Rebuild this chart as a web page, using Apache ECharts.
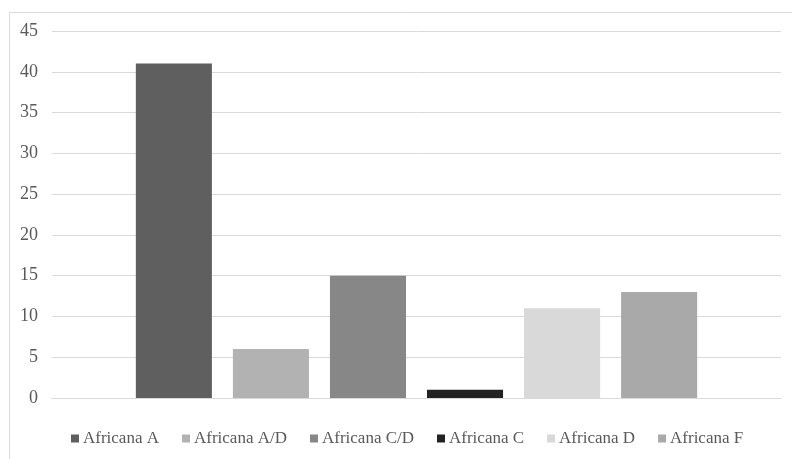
<!DOCTYPE html>
<html><head><meta charset="utf-8">
<script src="https://cdn.jsdelivr.net/npm/echarts@6/dist/echarts.min.js"></script>
<style>html,body{margin:0;padding:0;background:#fff}#c{width:792px;height:459px}</style>
</head><body><div id="c"></div>
<script>
const categories = [''];
const seriesNames = ['Africana A','Africana A/D','Africana C/D','Africana C','Africana D','Africana F'];
const seriesValues = [41, 6, 15, 1, 11, 13];
const seriesColors = ['#5f5f5f','#b2b2b2','#878787','#222222','#d9d9d9','#a9a9a9'];
const yTicks = {min:0, max:45, interval:5};

const chart = echarts.init(document.getElementById('c'));
const font = '"Liberation Serif","Times New Roman",serif';
chart.setOption({
  animation:false,
  graphic:[{type:'rect',left:7,top:10,shape:{width:900,height:600},style:{fill:'none',stroke:'#d9d9d9',lineWidth:1},silent:true}],
  grid:{left:52,right:11,top:31,bottom:61},
  legend:{top:425,left:66,padding:5,itemWidth:8,itemHeight:8,itemGap:23,icon:'rect',
    textStyle:{fontFamily:font,fontSize:17,color:'#595959',padding:[0,0,0,-1]},
    data:seriesNames},
  xAxis:{type:'category',data:categories,axisLine:{lineStyle:{color:'#d9d9d9'}},axisTick:{show:false},axisLabel:{show:false}},
  yAxis:{type:'value',min:yTicks.min,max:yTicks.max,interval:yTicks.interval,
    axisLine:{show:false},axisTick:{show:false},
    splitLine:{lineStyle:{color:'#d9d9d9'}},
    axisLabel:{fontFamily:font,fontSize:18,color:'#595959',margin:14}},
  series:seriesNames.map((n,i)=>({name:n,type:'bar',data:[seriesValues[i]],
    itemStyle:{color:seriesColors[i]},barCategoryGap:'23%',barGap:'27.6%'}))
});
</script></body></html>
